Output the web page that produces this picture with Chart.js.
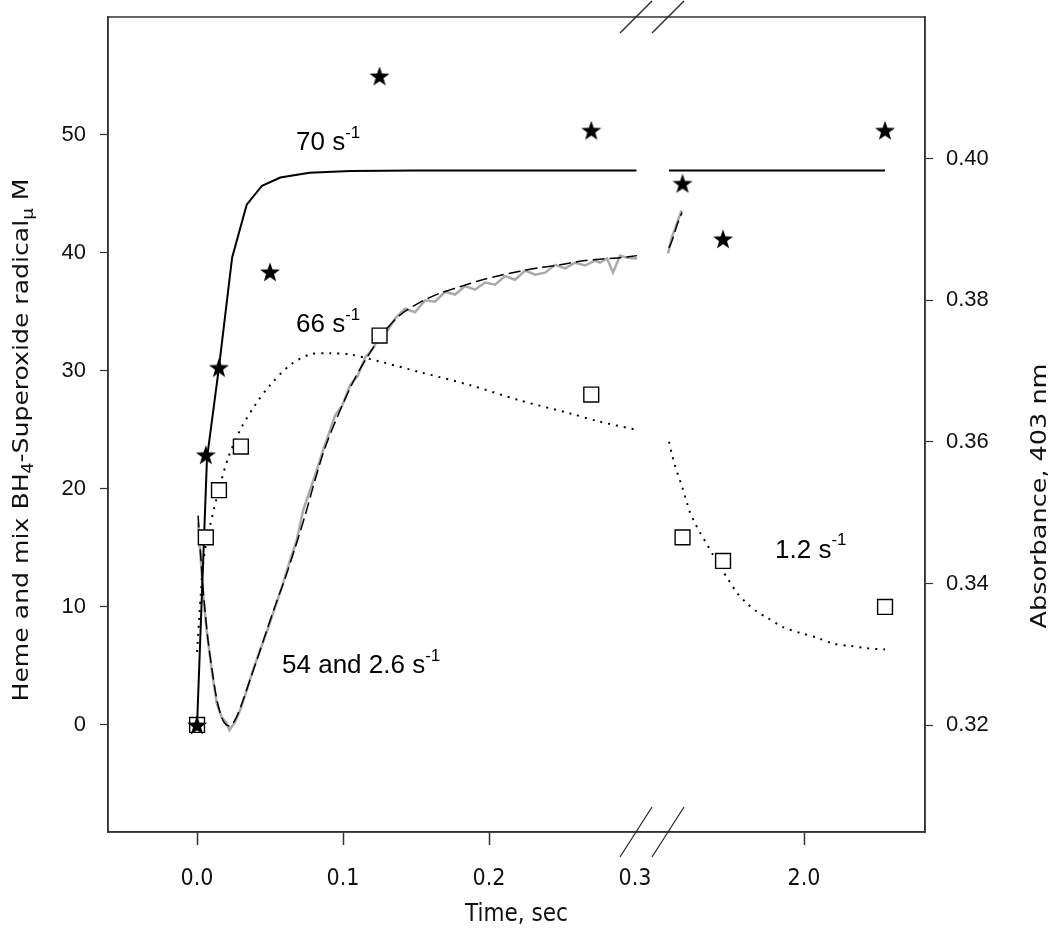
<!DOCTYPE html>
<html>
<head>
<meta charset="utf-8">
<script src="https://cdn.jsdelivr.net/npm/chart.js@4.4.0/dist/chart.umd.min.js"></script>
<style>
  html, body { margin: 0; padding: 0; background: #fff; }
  #wrap { width: 1050px; height: 937px; }
</style>
</head>
<body>
<div id="wrap"><canvas id="chart" width="1050" height="937"></canvas></div>
<script>
// --- data: A = left part of the broken time axis, B = right part (seconds) ---
const starTimesA = [0, 0.006, 0.015, 0.05, 0.125, 0.27];
const starValsA = [0, 22.9, 30.3, 38.4, 55.0, 50.4];
const starTimesB = [0.5, 1.0, 3.0];
const starValsB = [45.9, 41.2, 50.4];

const squareTimesA = [0, 0.006, 0.015, 0.03, 0.125, 0.27];
const squareValsA = [0, 15.9, 19.9, 23.6, 33.0, 28.0];
const squareTimesB = [0.5, 1.0, 3.0];
const squareValsB = [15.9, 13.9, 10.0];

// 70 s-1 fit (left axis)
const fit70TimesA = [0, 0.0068, 0.015, 0.024, 0.034, 0.0445, 0.057, 0.077, 0.105, 0.15, 0.2, 0.25, 0.301];
const fit70ValsA = [0, 22.6, 30.3, 39.6, 44.1, 45.7, 46.4, 46.8, 46.95, 47.0, 47.0, 47.0, 47.0];
const fit70TimesB = [0.333, 1.0, 2.0, 3.0];
const fit70ValsB = [47.0, 47.0, 47.0, 47.0];

// 66 s-1 / 1.2 s-1 fit (left axis, dotted)
const fit66TimesA = [0, 0.0014, 0.0027, 0.0041, 0.0062, 0.0089, 0.0144, 0.0212, 0.0295, 0.0397, 0.05, 0.0637, 0.0774, 0.0911, 0.1048, 0.1253, 0.1527, 0.187, 0.2212, 0.2555, 0.276, 0.3014];
const fit66ValsA = [6.2, 8.9, 11.4, 13.6, 15.4, 16.9, 19.7, 22.6, 25.0, 27.1, 28.8, 30.5, 31.4, 31.5, 31.4, 30.8, 29.9, 28.8, 27.5, 26.4, 25.7, 25.0];
const fit66TimesB = [0.333, 0.37, 0.407, 0.444, 0.494, 0.556, 0.593, 0.654, 0.716, 0.802, 0.877, 0.963, 1.049, 1.173, 1.296, 1.42, 1.543, 1.741, 1.951, 2.16, 2.358, 2.568, 2.778, 3.0];
const fit66ValsB = [24.0, 22.9, 22.0, 21.2, 20.2, 18.8, 18.0, 17.1, 16.3, 15.3, 14.4, 13.4, 12.5, 11.2, 10.3, 9.6, 9.1, 8.3, 7.8, 7.4, 6.9, 6.7, 6.5, 6.4];

// absorbance trace at 403 nm (right axis, grey)
const absTimesA = [0.0007, 0.0021, 0.0041, 0.0066, 0.0089, 0.011, 0.0135, 0.0169, 0.0203, 0.0221, 0.026, 0.0295, 0.034, 0.0384, 0.0432, 0.0477, 0.0521, 0.0589, 0.0637, 0.0683, 0.0726, 0.0774, 0.082, 0.0863, 0.0945, 0.0996, 0.1048, 0.11, 0.1151, 0.1202, 0.1253, 0.1305, 0.1356, 0.1425, 0.1493, 0.1562, 0.163, 0.1699, 0.1767, 0.1836, 0.1904, 0.1973, 0.2041, 0.211, 0.2178, 0.2247, 0.2315, 0.2384, 0.2452, 0.2521, 0.2589, 0.2658, 0.2726, 0.276, 0.2808, 0.2849, 0.2897, 0.2945, 0.3014];
const absValsA = [0.3486, 0.3447, 0.3386, 0.3334, 0.3296, 0.3264, 0.3231, 0.3211, 0.3203, 0.3193, 0.3204, 0.3221, 0.3249, 0.3278, 0.3306, 0.3331, 0.3358, 0.34, 0.3433, 0.3461, 0.3503, 0.3532, 0.356, 0.3588, 0.3637, 0.3652, 0.368, 0.3693, 0.3719, 0.3731, 0.375, 0.3757, 0.3774, 0.3788, 0.3783, 0.38, 0.3798, 0.3812, 0.3808, 0.382, 0.3815, 0.3825, 0.3822, 0.3834, 0.3829, 0.3842, 0.3836, 0.3839, 0.385, 0.3845, 0.3853, 0.3849, 0.3856, 0.3853, 0.3859, 0.3839, 0.3863, 0.386, 0.3859];
const absTimesB = [0.321, 0.367, 0.407, 0.444, 0.49];
const absValsB = [0.3866, 0.3889, 0.3901, 0.3913, 0.3927];

// 54 and 2.6 s-1 fit (right axis, dashed)
const absFitTimesA = [0.0007, 0.0027, 0.0048, 0.0075, 0.0103, 0.013, 0.0158, 0.0185, 0.0212, 0.024, 0.0274, 0.0315, 0.0363, 0.0418, 0.0473, 0.0534, 0.0603, 0.0671, 0.074, 0.0808, 0.0877, 0.0979, 0.1082, 0.1185, 0.1288, 0.139, 0.1527, 0.1664, 0.1801, 0.1938, 0.2075, 0.2212, 0.2349, 0.2486, 0.2623, 0.276, 0.2897, 0.3014];
const absFitValsA = [0.3496, 0.3433, 0.3376, 0.332, 0.3278, 0.3242, 0.3217, 0.3204, 0.3199, 0.3201, 0.3213, 0.3235, 0.3264, 0.3297, 0.3331, 0.3368, 0.3407, 0.345, 0.3496, 0.3546, 0.3592, 0.3644, 0.369, 0.3726, 0.3757, 0.3779, 0.3797, 0.381, 0.3819, 0.3828, 0.3835, 0.3841, 0.3846, 0.385, 0.3855, 0.3858, 0.386, 0.3863];
const absFitTimesB = [0.333, 0.37, 0.407, 0.444, 0.494];
const absFitValsB = [0.3874, 0.3884, 0.3897, 0.391, 0.3924];

const xTickTimes = [0, 0.1, 0.2, 0.3, 2.0];
const xTickParts = ['A', 'A', 'A', 'A', 'B'];
const xTickLabels = ['0.0', '0.1', '0.2', '0.3', '2.0'];
const leftTicks = [0, 10, 20, 30, 40, 50];
const rightTicks = [0.32, 0.34, 0.36, 0.38, 0.40];

// broken axis: part B is squeezed (81 px per second, 2.0 s sits at 0.41575 on the axis)
const B_AT_2S = 0.41575;
const B_PER_S = 0.055479;
function toAxis(t, part) {
  return part === 'A' ? t : B_AT_2S + (t - 2) * B_PER_S;
}
function series(tA, vA, tB, vB) {
  const pts = tA.map((t, i) => ({ x: toAxis(t, 'A'), y: vA[i] }));
  if (tB) {
    pts.push({ x: 0.311, y: null });
    tB.forEach((t, i) => pts.push({ x: toAxis(t, 'B'), y: vB[i] }));
  }
  return pts;
}

// filled five-point star marker
function makeStar(size) {
  const c = document.createElement('canvas');
  c.width = size; c.height = size;
  const g = c.getContext('2d');
  const cx = size / 2, cy = size / 2 + 1, ro = size / 2 - 0.5, ri = ro * 0.4;
  g.beginPath();
  for (let i = 0; i < 10; i++) {
    const r = i % 2 ? ri : ro;
    const a = -Math.PI / 2 + i * Math.PI / 5;
    g.lineTo(cx + r * Math.cos(a), cy + r * Math.sin(a));
  }
  g.closePath();
  g.fillStyle = '#000';
  g.fill();
  return c;
}
const star = makeStar(22);

const NARROW = "'Liberation Sans Narrow', 'DejaVu Sans Condensed', 'Liberation Sans', sans-serif";
const REG = "'Liberation Sans', Arial, sans-serif";

function richText(ctx, parts, x, y, align) {
  let w = 0;
  parts.forEach(p => { ctx.font = p.size + 'px ' + (p.family || REG); w += ctx.measureText(p.t).width; });
  let cx = align === 'center' ? x - w / 2 : x;
  ctx.textAlign = 'left';
  ctx.textBaseline = 'middle';
  parts.forEach(p => {
    ctx.font = p.size + 'px ' + (p.family || REG);
    ctx.fillText(p.t, cx, y + (p.dy || 0));
    cx += ctx.measureText(p.t).width;
  });
}

// rotated title, stretched along its length like the reference
function sideTitle(ctx, parts, x, y, stretch) {
  ctx.save();
  ctx.translate(x, y);
  ctx.rotate(-Math.PI / 2);
  ctx.scale(stretch, 1);
  richText(ctx, parts, 0, 0, 'center');
  ctx.restore();
}

const extras = {
  id: 'extras',
  afterDraw(chart) {
    const { ctx, chartArea: a, scales } = chart;
    const x = scales.x, y = scales.y;
    ctx.save();
    // frame
    ctx.strokeStyle = '#333';
    ctx.lineWidth = 1.5;
    ctx.strokeRect(a.left, a.top, a.right - a.left, a.bottom - a.top);
    // break marks
    ctx.lineWidth = 1.2;
    ctx.strokeStyle = '#222';
    [620, 652].forEach(bx => {
      ctx.beginPath(); ctx.moveTo(bx, a.top + 16); ctx.lineTo(bx + 32, a.top - 16); ctx.stroke();
      ctx.beginPath(); ctx.moveTo(bx, a.bottom + 25); ctx.lineTo(bx + 32, a.bottom - 25); ctx.stroke();
    });
    // rate labels
    ctx.fillStyle = '#000';
    const sup = t => ({ t, size: 17, dy: -10 });
    richText(ctx, [{ t: '70 s', size: 26 }, sup('-1')], x.getPixelForValue(toAxis(0.0678, 'A')), y.getPixelForValue(49.3), 'left');
    richText(ctx, [{ t: '66 s', size: 26 }, sup('-1')], x.getPixelForValue(toAxis(0.0678, 'A')), y.getPixelForValue(33.9), 'left');
    richText(ctx, [{ t: '54 and 2.6 s', size: 26 }, sup('-1')], x.getPixelForValue(toAxis(0.0582, 'A')), y.getPixelForValue(5.0), 'left');
    richText(ctx, [{ t: '1.2 s', size: 26 }, sup('-1')], x.getPixelForValue(toAxis(1.642, 'B')), y.getPixelForValue(14.8), 'left');
    // axis titles
    ctx.fillStyle = '#111';
    richText(ctx, [{ t: 'Time, sec', size: 24, family: NARROW }], (a.left + a.right) / 2, 915, 'center');
    sideTitle(ctx, [{ t: 'Absorbance, 403 nm', size: 22, family: NARROW }], 1040, 496, 1.29);
    sideTitle(ctx, [
      { t: 'Heme and mix BH', size: 22, family: NARROW },
      { t: '4', size: 15, dy: 7, family: NARROW },
      { t: '-Superoxide radical', size: 22, family: NARROW },
      { t: '\u00b5', size: 16, dy: 7, family: NARROW },
      { t: ' M', size: 22, family: NARROW }
    ], 22, 440, 1.27);
    ctx.restore();
  }
};

const axisBorder = { color: '#333', width: 1.5 };
const noPad = s => { s.paddingTop = 0; s.paddingBottom = 0; };

new Chart(document.getElementById('chart'), {
  type: 'line',
  data: {
    // first dataset is drawn on top
    datasets: [
      { data: series(starTimesA, starValsA, starTimesB, starValsB), yAxisID: 'y', showLine: false, pointStyle: star, pointRadius: 11 },
      { data: series(squareTimesA, squareValsA, squareTimesB, squareValsB), yAxisID: 'y', showLine: false, pointStyle: 'rect', pointRadius: 10.5, borderColor: '#000', borderWidth: 1.4, backgroundColor: '#fff' },
      { data: series(fit70TimesA, fit70ValsA, fit70TimesB, fit70ValsB), yAxisID: 'y', borderColor: '#000', borderWidth: 2, pointRadius: 0, tension: 0 },
      { data: series(fit66TimesA, fit66ValsA, fit66TimesB, fit66ValsB), yAxisID: 'y', borderColor: '#000', borderWidth: 2, borderDash: [2, 6], pointRadius: 0, tension: 0.3 },
      { data: series(absFitTimesA, absFitValsA, absFitTimesB, absFitValsB), yAxisID: 'y1', borderColor: '#000', borderWidth: 1.5, borderDash: [12, 5], pointRadius: 0, tension: 0.3 },
      { data: series(absTimesA, absValsA, absTimesB, absValsB), yAxisID: 'y1', borderColor: '#a9a9a9', borderWidth: 2.5, pointRadius: 0, tension: 0 }
    ]
  },
  options: {
    responsive: false,
    animation: false,
    devicePixelRatio: 1,
    spanGaps: false,
    layout: { padding: { top: 17, left: 0, right: 0, bottom: 0 } },
    plugins: { legend: { display: false }, tooltip: { enabled: false } },
    scales: {
      x: {
        type: 'linear',
        min: -0.061,
        max: 0.4986,
        afterBuildTicks: s => { s.ticks = xTickTimes.map((t, i) => ({ value: toAxis(t, xTickParts[i]) })); },
        afterFit: s => { s.height = 105; s.paddingLeft = 0; s.paddingRight = 0; },
        ticks: { autoSkip: false, maxRotation: 0, padding: 20, color: '#111', font: { family: NARROW, size: 23 }, callback: (v, i) => xTickLabels[i] },
        grid: { drawOnChartArea: false, tickLength: 13, tickWidth: 1.5, tickColor: c => (c.index === 3 ? 'rgba(0,0,0,0)' : '#333') },
        border: axisBorder
      },
      y: {
        position: 'left',
        min: -9.07,
        max: 60.0,
        afterBuildTicks: s => { s.ticks = leftTicks.map(v => ({ value: v })); },
        afterFit: s => { s.width = 108; noPad(s); },
        ticks: { autoSkip: false, padding: 14, color: '#111', font: { family: REG, size: 22 } },
        grid: { drawOnChartArea: false, tickLength: 8, tickWidth: 1.2, tickColor: '#333' },
        border: axisBorder
      },
      y1: {
        position: 'right',
        min: 0.3049,
        max: 0.42,
        afterBuildTicks: s => { s.ticks = rightTicks.map(v => ({ value: v })); },
        afterFit: s => { s.width = 125; noPad(s); },
        ticks: { autoSkip: false, padding: 13, color: '#111', font: { family: REG, size: 22 }, callback: v => v.toFixed(2) },
        grid: { drawOnChartArea: false, tickLength: 8, tickWidth: 1.2, tickColor: '#333' },
        border: axisBorder
      }
    }
  },
  plugins: [extras]
});
</script>
</body>
</html>
